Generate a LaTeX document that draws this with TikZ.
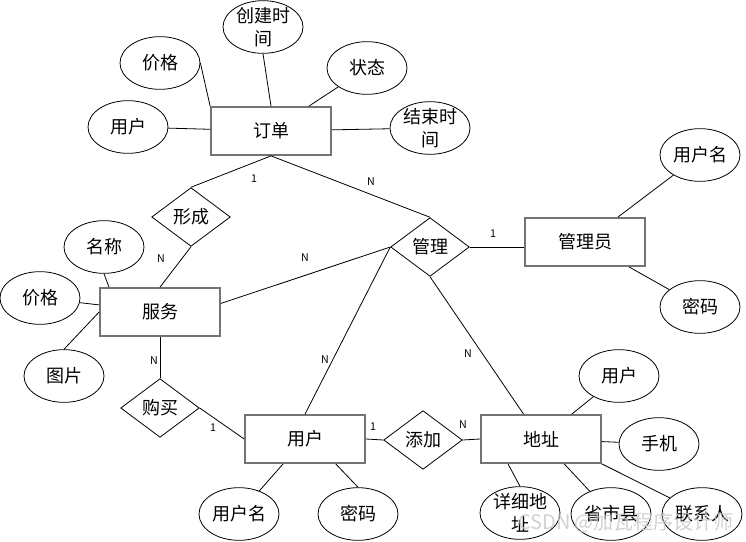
\documentclass[tikz,border=0pt]{standalone}
\usepackage{fontspec}
\setmainfont{Noto Sans CJK SC}
\usetikzlibrary{shapes.geometric}

\begin{document}
\begin{tikzpicture}[x=0.75pt, y=-0.75pt,
    entity/.style={draw=black!55, line width=1.3pt, rectangle, minimum width=90pt, minimum height=36pt, inner sep=0pt, font=\fontsize{13.5}{17}\selectfont},
    attr/.style={draw, line width=0.6pt, ellipse, minimum width=60pt, minimum height=39.5pt, inner sep=0pt, align=center, font=\fontsize{13.5}{17}\selectfont},
    twoline/.style={inner ysep=-1.5pt},
    rel/.style={draw, line width=0.6pt, diamond, minimum width=59pt, minimum height=44pt, inner sep=0pt, font=\fontsize{13.5}{17}\selectfont},
    card/.style={inner sep=0pt, font=\fontsize{8}{9}\selectfont},
    link/.style={line width=0.6pt}]

    \useasboundingbox (0,0) rectangle (746,542);

    % entities
    \node[entity] (order) at (271,131) {订单};
    \node[entity] (service) at (160,312) {服务};
    \node[entity] (admin) at (585,242) {管理员};
    \node[entity] (user) at (305,439) {用户};
    \node[entity] (addr) at (541,439) {地址};

    % relations
    \node[rel] (form) at (191,217) {形成};
    \node[rel] (manage) at (430,247) {管理};
    \node[rel] (buy) at (160,408) {购买};
    \node[rel] (add) at (423,440) {添加};

    % attributes of 订单
    \node[attr] (oprice) at (160,63) {价格};
    \node[attr,twoline] (ocreate) at (263,27) {创建时\\间};
    \node[attr] (ostate) at (367,68) {状态};
    \node[attr] (ouser) at (128,127) {用户};
    \node[attr,twoline] (oend) at (430,128) {结束时\\间};

    % attributes of 管理员
    \node[attr] (aname) at (700,155) {用户名};
    \node[attr] (apwd) at (700,307) {密码};

    % attributes of 服务
    \node[attr] (sname) at (104,247) {名称};
    \node[attr] (sprice) at (40,298) {价格};
    \node[attr] (spic) at (64,376) {图片};

    % attributes of 用户
    \node[attr] (uname) at (239,514) {用户名};
    \node[attr] (upwd) at (358,514) {密码};

    % attributes of 地址
    \node[attr] (duser) at (619,376) {用户};
    \node[attr] (dphone) at (659,444) {手机};
    \node[attr,twoline] (ddetail) at (520,513) {详细地\\址};
    \node[attr] (dregion) at (611,514) {省市县};
    \node[attr] (dcontact) at (702,514) {联系人};

    % attribute links
    \draw[link] (oprice.east) -- (order.north west);
    \draw[link] (ocreate.south) -- (order.north);
    \draw[link] (ostate) -- (order);
    \draw[link] (ouser) -- (order);
    \draw[link] (oend) -- (order);
    \draw[link] (aname) -- (admin);
    \draw[link] (apwd) -- (admin);
    \draw[link] (sname.south) -- (service.154);
    \draw[link] (sprice) -- (service);
    \draw[link] (spic.north) -- (service.west);
    \draw[link] (uname) -- (user);
    \draw[link] (upwd.north) -- (user.-39);
    \draw[link] (duser) -- (addr);
    \draw[link] (dphone) -- (addr);
    \draw[link] (ddetail.north) -- (addr.-143);
    \draw[link] (dregion) -- (addr);
    \draw[link] (dcontact) -- (addr.south east);

    % relation links
    \draw[link] (order.south) -- (form.north);
    \draw[link] (order.south) -- (manage.north);
    \draw[link] (form.south) -- (service.north);
    \draw[link] (service.8) -- (manage.west);
    \draw[link] (manage.east) -- (manage.east -| admin.west);
    \draw[link] (manage.west) -- (user.north);
    \draw[link] (manage.south) -- (addr.125);
    \draw[link] (service.south) -- (buy.north);
    \draw[link] (buy.east) -- (user.west);
    \draw[link] (user.east) -- (add.west);
    \draw[link] (add.east) -- (addr.west);

    % cardinalities
    \node[card] (c1) at (254,179) {1};
    \node[card] (c2) at (371,182) {N};
    \node[card] (c3) at (161,259) {N};
    \node[card] (c4) at (305,258) {N};
    \node[card] (c5) at (493,234) {1};
    \node[card] (c6) at (325,360) {N};
    \node[card] (c7) at (468,354) {N};
    \node[card] (c8) at (154,361) {N};
    \node[card] (c9) at (213,428) {1};
    \node[card] (c10) at (373,427) {1};
    \node[card] (c11) at (463,425) {N};

    % watermark
    \node[inner sep=0pt, text=gray!45, opacity=0.8, font=\fontsize{15}{18}\selectfont] (mark) at (626,523) {CSDN @加瓦程序设计师};

\end{tikzpicture}
\end{document}
